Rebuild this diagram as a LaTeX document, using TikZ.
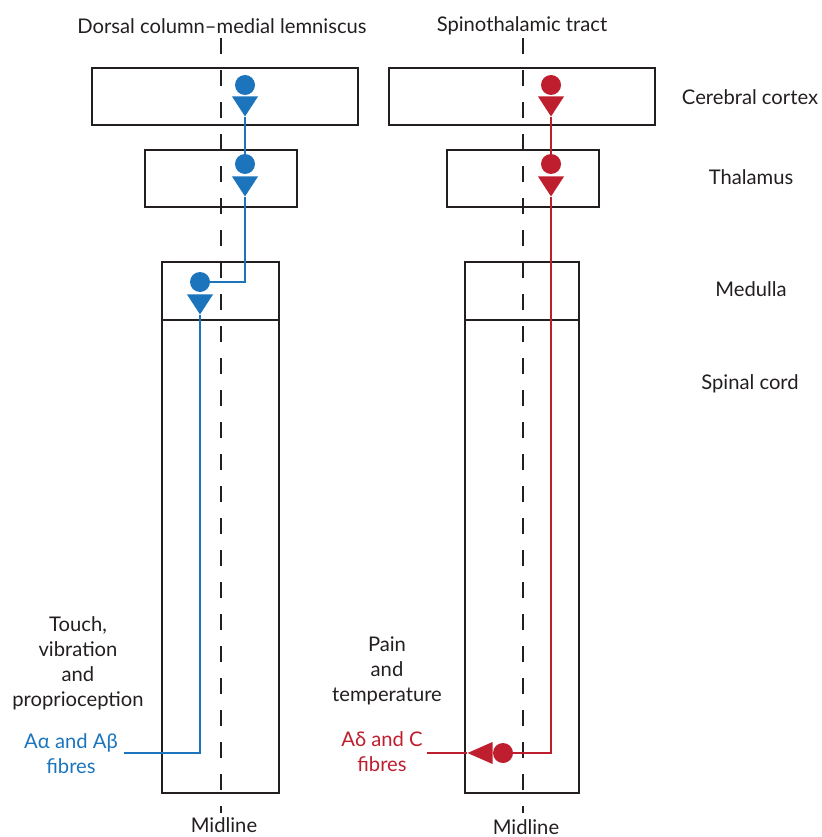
\documentclass[tikz,border=0pt]{standalone}
\usepackage{fontspec}
\setmainfont{Lato}
\usetikzlibrary{arrows.meta,positioning,calc,shapes.geometric}

\definecolor{inkdark}{HTML}{231F20}
\definecolor{dcblue}{HTML}{1C75BC}
\definecolor{stred}{HTML}{BE1E2D}

\begin{document}
\begin{tikzpicture}[
  x=1pt, y=-1pt,
  every node/.style={font=\fontsize{20.2}{25}\selectfont, text=inkdark},
  box/.style={draw=inkdark, line width=2.2pt, inner sep=0pt},
  midline/.style={inkdark, line width=2.6pt, dash pattern=on 16pt off 16pt},
  soma/.style={circle, fill=#1, inner sep=0pt, minimum size=20pt},
  syndown/.style={isosceles triangle, isosceles triangle stretches, fill=#1,
              shape border rotate=270, anchor=apex,
              inner sep=0pt, minimum width=26pt, minimum height=20pt},
  synleft/.style={isosceles triangle, isosceles triangle stretches, fill=#1,
              shape border rotate=180, anchor=apex,
              inner sep=0pt, minimum width=22pt, minimum height=25pt},
  fibre/.style={line width=2.2pt, #1},
  lbl/.style={align=center},
]
\useasboundingbox (0,0) rectangle (821,837);

% brain levels, left column
\node[box, minimum width=266pt, minimum height=57pt] (lctx) at (225,96.5) {};
\node[box, minimum width=152pt, minimum height=57pt] (lthal) at (221,178.5) {};
\node[box, minimum width=117pt, minimum height=58pt] (lmed) at (220.5,291) {};
\node[box, minimum width=117pt, minimum height=473pt] (lcord) at (220.5,556.5) {};

% brain levels, right column
\node[box, minimum width=266pt, minimum height=57pt] (rctx) at (522,96.5) {};
\node[box, minimum width=152pt, minimum height=57pt] (rthal) at (523,178.5) {};
\node[box, minimum width=114pt, minimum height=58pt] (rmed) at (522,291) {};
\node[box, minimum width=114pt, minimum height=473pt] (rcord) at (522,556.5) {};

% midlines
\coordinate (lmidtop) at (221,38);
\coordinate (lmidbot) at (221,813);
\coordinate (rmidtop) at (523,38);
\coordinate (rmidbot) at (523,813);
\draw[midline] (lmidtop) -- (lmidbot);
\draw[midline] (rmidtop) -- (rmidbot);

% column titles
\node (ltitle) at (222,26) {Dorsal column–medial lemniscus};
\node (rtitle) at (522,26) {Spinothalamic tract};

% level labels
\node (cortexlbl) at (750,97) {Cerebral cortex};
\node (thallbl) at (751,177) {Thalamus};
\node (medlbl) at (751,289) {Medulla};
\node (cordlbl) at (750,384) {Spinal cord};

% dorsal column pathway
\node[soma=dcblue] (lctxS) at (245,85) {};
\node[syndown=dcblue] (lctxT) at (245,117) {};
\node[soma=dcblue] (lthalS) at (245,164) {};
\node[syndown=dcblue] (lthalT) at (245,197) {};
\node[soma=dcblue] (lmedS) at (200,282) {};
\node[syndown=dcblue] (lmedT) at (200,315) {};
\coordinate (lin) at (124,753);

\draw[fibre=dcblue] (lctxT.apex) -- (lthalS.north);
\draw[fibre=dcblue] (lthalT.apex) |- (lmedS.east);
\draw[fibre=dcblue] (lmedT.apex) |- (lin);

% spinothalamic pathway
\node[soma=stred] (rctxS) at (551,85) {};
\node[syndown=stred] (rctxT) at (551,117) {};
\node[soma=stred] (rthalS) at (551,164) {};
\node[syndown=stred] (rthalT) at (551,197) {};
\node[soma=stred] (rcordS) at (503,753) {};
\node[synleft=stred] (rcordT) at (467,753) {};
\coordinate (rin) at (427,753);

\draw[fibre=stred] (rctxT.apex) -- (rthalS.north);
\draw[fibre=stred] (rthalT.apex) |- (rcordS.east);
\draw[fibre=stred] (rcordT.apex) -- (rin);

% modality labels
\node[lbl] (lmod) at (78,663) {Touch,\\vibration\\and\\proprioception};
\node[lbl, text=dcblue] (lfib) at (71,754) {Aα and Aβ\\fibres};
\node[lbl] (rmod) at (387,671) {Pain\\and\\temperature};
\node[lbl, text=stred] (rfib) at (382,752) {Aδ and C\\fibres};

% midline labels
\node (lmidlbl) at (224,825) {Midline};
\node (rmidlbl) at (526,827) {Midline};
\end{tikzpicture}
\end{document}
